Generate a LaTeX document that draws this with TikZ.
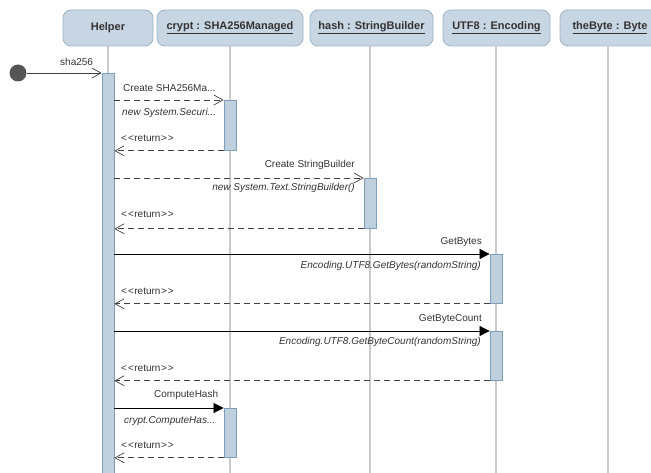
\documentclass[tikz,border=0pt]{standalone}
\usepackage{fontspec}
\setmainfont{Liberation Sans}
\usetikzlibrary{arrows.meta}
\definecolor{hdrfill}{HTML}{C7D6E2}
\definecolor{hdrdraw}{HTML}{9CB4C8}
\definecolor{actfill}{HTML}{BED0DE}
\definecolor{actdraw}{HTML}{7E9DB8}
\definecolor{lifec}{HTML}{CACACA}
\definecolor{txt}{HTML}{333333}
\definecolor{dotc}{HTML}{555555}
\newcommand{\retlabel}{<\kern1pt<\kern0.5pt return\kern0.5pt>\kern1pt>}
\begin{document}
\begin{tikzpicture}[x=1pt,y=-1pt,
 head/.style={draw=hdrdraw, fill=hdrfill, rounded corners=8pt, line width=0.8pt, minimum height=36pt, inner sep=0pt, font=\bfseries\fontsize{11}{13}\selectfont, text=txt},
 act/.style={draw=actdraw, fill=actfill, line width=0.8pt, minimum width=12pt, inner sep=0pt, anchor=north},
 life/.style={draw=lifec, line width=1.6pt},
 call/.style={-{Triangle[length=10pt,width=10pt]}, line width=0.7pt, draw=black},
 dcall/.style={-{Straight Barb[length=9pt,width=10pt]}, line width=0.7pt, draw=black!75, dash pattern=on 6pt off 4pt},
 ret/.style={dcall},
 lbl/.style={font=\fontsize{10}{12}\selectfont, text=txt, inner sep=0pt},
 ilbl/.style={font=\itshape\fontsize{10}{12}\selectfont, text=txt, inner sep=0pt}
]
\useasboundingbox (0,0) rectangle (651,473);
\clip (0,0) rectangle (651,473);
% headers
\node[head, minimum width=90pt] (helper) at (108,28) {Helper};
\node[head, minimum width=146pt] (crypt) at (230,28) {\underline{crypt : SHA256Managed}};
\node[head, minimum width=123pt] (hash) at (371.5,28) {\underline{hash : StringBuilder}};
\node[head, minimum width=107pt] (utf) at (496.5,28) {\underline{UTF8 : Encoding}};
\node[head, minimum width=100pt] (byte) at (610,28) {\underline{theByte : Byte}};
% lifelines
\coordinate (endH) at (108,480);
\coordinate (endC) at (230,480);
\coordinate (endS) at (370,480);
\coordinate (endU) at (496,480);
\coordinate (endB) at (608,480);
\draw[life] (helper.south) -- (endH);
\draw[life] (crypt.south) -- (endC);
\draw[life] (370,46) -- (endS);
\draw[life] (496,46) -- (endU);
\draw[life] (608,46) -- (endB);
% activations
\node[act, minimum height=410pt] (ha) at (108,73) {};
\node[act, minimum height=50pt] (c1) at (230,100) {};
\node[act, minimum height=50pt] (s1) at (370,178) {};
\node[act, minimum height=49pt] (u1) at (496,254) {};
\node[act, minimum height=49pt] (u2) at (496,331) {};
\node[act, minimum height=49pt] (c2) at (230,408) {};
% start
\node[circle, fill=dotc, minimum size=17pt, inner sep=0pt] (start) at (18,73) {};
\draw[-{Straight Barb[length=9pt,width=10pt]}, line width=0.7pt, draw=black!75] (start) -- (ha.north west);
\node[lbl, anchor=west] at (60,62) {sha256};
% message 1
\draw[dcall] (ha.east |- c1.north) -- (c1.north west);
\node[lbl, anchor=west] at (123,88) {Create SHA256Ma...};
\node[ilbl, anchor=west] at (122,113) {new System.Securi...};
\node[lbl, anchor=west] at (121,138) {\retlabel};
\draw[ret] (c1.south west) -- (ha.east |- c1.south);
% message 2
\draw[dcall] (ha.east |- s1.north) -- (s1.north west);
\node[lbl, anchor=east] at (355,165) {Create StringBuilder};
\node[ilbl, anchor=east] at (355,188) {new System.Text.StringBuilder()};
\node[lbl, anchor=west] at (121,214) {\retlabel};
\draw[ret] (s1.south west) -- (ha.east |- s1.south);
% message 3
\draw[call] (ha.east |- u1.north) -- (u1.north west);
\node[lbl, anchor=east] at (482,242) {GetBytes};
\node[ilbl, anchor=east] at (481,266) {Encoding.UTF8.GetBytes(randomString)};
\node[lbl, anchor=west] at (121,291) {\retlabel};
\draw[ret] (u1.south west) -- (ha.east |- u1.south);
% message 4
\draw[call] (ha.east |- u2.north) -- (u2.north west);
\node[lbl, anchor=east] at (482,319) {GetByteCount};
\node[ilbl, anchor=east] at (481,342) {Encoding.UTF8.GetByteCount(randomString)};
\node[lbl, anchor=west] at (121,368) {\retlabel};
\draw[ret] (u2.south west) -- (ha.east |- u2.south);
% message 5
\draw[call] (ha.east |- c2.north) -- (c2.north west);
\node[lbl, anchor=west] at (154,395) {ComputeHash};
\node[ilbl, anchor=west] at (124,421) {crypt.ComputeHas...};
\node[lbl, anchor=west] at (121,445) {\retlabel};
\draw[ret] (c2.south west) -- (ha.east |- c2.south);
\end{tikzpicture}
\end{document}
